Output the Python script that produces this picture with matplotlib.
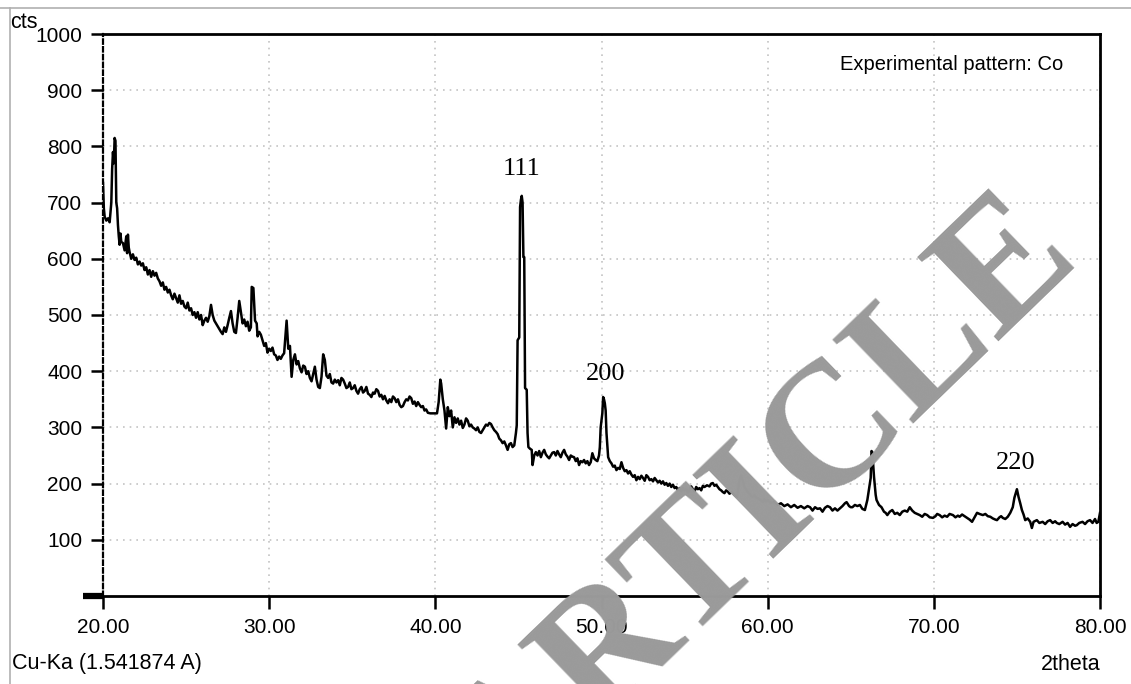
import numpy as np
import matplotlib.pyplot as plt
from matplotlib.lines import Line2D

# XRD pattern (2theta in degrees, counts)
two_theta = [
    20.00, 20.05, 20.10, 20.20, 20.30, 20.40, 20.50, 20.55, 20.60, 20.65, 20.70, 20.75, 20.80, 20.85, 20.90, 20.95,
    21.00, 21.05, 21.10, 21.20, 21.30, 21.40, 21.45, 21.50, 21.55, 21.60, 21.70, 21.80, 21.90, 22.00, 22.10, 22.20,
    22.30, 22.40, 22.50, 22.60, 22.70, 22.80, 22.90, 23.00, 23.10, 23.20, 23.30, 23.40, 23.50, 23.60, 23.70, 23.80,
    23.90, 24.00, 24.10, 24.20, 24.30, 24.40, 24.50, 24.60, 24.70, 24.80, 24.90, 25.00, 25.10, 25.20, 25.30, 25.40,
    25.50, 25.60, 25.70, 25.80, 25.90, 26.00, 26.10, 26.20, 26.30, 26.40, 26.50, 26.60, 26.70, 26.80, 26.90, 27.00,
    27.10, 27.20, 27.30, 27.40, 27.50, 27.60, 27.70, 27.80, 27.90, 28.00, 28.10, 28.20, 28.30, 28.40, 28.50, 28.60,
    28.70, 28.80, 28.90, 28.95, 29.05, 29.15, 29.25, 29.30, 29.40, 29.50, 29.60, 29.70, 29.80, 29.90, 30.00, 30.10,
    30.20, 30.30, 30.40, 30.50, 30.60, 30.70, 30.80, 30.90, 31.00, 31.05, 31.15, 31.25, 31.35, 31.45, 31.55, 31.65,
    31.75, 31.85, 31.95, 32.05, 32.15, 32.25, 32.35, 32.45, 32.55, 32.65, 32.75, 32.85, 32.95, 33.05, 33.15, 33.25,
    33.35, 33.45, 33.55, 33.65, 33.75, 33.85, 33.95, 34.05, 34.15, 34.25, 34.35, 34.45, 34.55, 34.65, 34.75, 34.85,
    34.95, 35.05, 35.15, 35.25, 35.35, 35.45, 35.55, 35.65, 35.75, 35.85, 35.95, 36.05, 36.15, 36.25, 36.35, 36.45,
    36.55, 36.65, 36.75, 36.85, 36.95, 37.05, 37.15, 37.25, 37.35, 37.45, 37.55, 37.65, 37.75, 37.85, 37.95, 38.05,
    38.15, 38.25, 38.35, 38.45, 38.55, 38.65, 38.75, 38.85, 38.95, 39.05, 39.15, 39.25, 39.35, 39.45, 39.55, 39.70,
    39.90, 40.10, 40.20, 40.30, 40.35, 40.45, 40.55, 40.65, 40.75, 40.85, 40.95, 41.05, 41.15, 41.25, 41.35, 41.45,
    41.55, 41.65, 41.75, 41.85, 41.95, 42.05, 42.15, 42.25, 42.35, 42.45, 42.55, 42.65, 42.75, 42.85, 42.95, 43.05,
    43.15, 43.25, 43.35, 43.45, 43.55, 43.65, 43.75, 43.85, 43.95, 44.05, 44.15, 44.25, 44.35, 44.45, 44.55, 44.65,
    44.75, 44.85, 44.90, 44.95, 45.05, 45.10, 45.15, 45.20, 45.25, 45.30, 45.35, 45.40, 45.50, 45.55, 45.60, 45.70,
    45.80, 45.85, 45.95, 46.05, 46.15, 46.25, 46.35, 46.45, 46.55, 46.65, 46.75, 46.85, 46.95, 47.05, 47.15, 47.25,
    47.35, 47.45, 47.55, 47.65, 47.75, 47.85, 47.95, 48.05, 48.15, 48.25, 48.35, 48.45, 48.55, 48.65, 48.75, 48.85,
    48.95, 49.05, 49.15, 49.25, 49.35, 49.45, 49.55, 49.65, 49.75, 49.85, 49.90, 49.95, 50.05, 50.10, 50.15, 50.20,
    50.25, 50.30, 50.40, 50.50, 50.60, 50.70, 50.80, 50.90, 51.00, 51.10, 51.20, 51.30, 51.40, 51.50, 51.60, 51.70,
    51.80, 51.90, 52.00, 52.10, 52.20, 52.30, 52.40, 52.50, 52.60, 52.70, 52.80, 52.90, 53.00, 53.10, 53.20, 53.30,
    53.40, 53.50, 53.60, 53.70, 53.80, 53.90, 54.00, 54.10, 54.20, 54.30, 54.40, 54.50, 54.60, 54.70, 54.80, 54.90,
    55.00, 55.10, 55.20, 55.30, 55.40, 55.50, 55.60, 55.70, 55.80, 55.90, 56.00, 56.10, 56.20, 56.35, 56.50, 56.60,
    56.70, 56.80, 56.90, 57.00, 57.10, 57.20, 57.30, 57.40, 57.50, 57.60, 57.70, 57.85, 58.00, 58.15, 58.25, 58.30,
    58.40, 58.50, 58.60, 58.70, 58.80, 58.90, 59.00, 59.10, 59.20, 59.30, 59.40, 59.50, 59.60, 59.70, 59.80, 59.90,
    60.00, 60.20, 60.40, 60.60, 60.80, 61.00, 61.20, 61.40, 61.60, 61.80, 62.00, 62.20, 62.40, 62.55, 62.70, 62.85,
    63.00, 63.15, 63.30, 63.45, 63.60, 63.75, 63.90, 64.05, 64.20, 64.35, 64.50, 64.65, 64.75, 64.90, 65.00, 65.10,
    65.25, 65.40, 65.55, 65.70, 65.85, 66.00, 66.10, 66.20, 66.25, 66.30, 66.40, 66.50, 66.55, 66.70, 66.85, 67.00,
    67.10, 67.20, 67.35, 67.50, 67.65, 67.80, 67.95, 68.10, 68.25, 68.40, 68.55, 68.70, 68.85, 69.00, 69.15, 69.30,
    69.45, 69.60, 69.75, 69.95, 70.10, 70.20, 70.35, 70.50, 70.65, 70.80, 70.95, 71.15, 71.30, 71.45, 71.55, 71.70,
    71.85, 72.00, 72.15, 72.30, 72.45, 72.60, 72.75, 72.95, 73.10, 73.25, 73.40, 73.55, 73.70, 73.80, 73.95, 74.05,
    74.15, 74.30, 74.45, 74.60, 74.75, 74.85, 74.95, 75.00, 75.10, 75.20, 75.30, 75.40, 75.50, 75.65, 75.80, 75.90,
    76.00, 76.20, 76.35, 76.55, 76.70, 76.85, 77.00, 77.15, 77.30, 77.40, 77.55, 77.75, 77.90, 78.05, 78.20, 78.35,
    78.50, 78.60, 78.75, 78.95, 79.10, 79.25, 79.40, 79.55, 79.70, 79.80, 79.90, 80.00,
]
counts = [
    735, 690, 675, 668, 672, 665, 700, 760, 790, 770, 815, 810, 700, 690, 660, 640,
    625, 645, 630, 628, 615, 640, 610, 643, 620, 612, 600, 608, 598, 602, 590, 595,
    588, 592, 580, 585, 572, 580, 568, 578, 570, 575, 565, 560, 552, 558, 545, 550,
    540, 545, 535, 528, 538, 530, 522, 535, 520, 525, 515, 512, 522, 508, 512, 500,
    505, 495, 505, 492, 500, 482, 490, 495, 488, 498, 518, 500, 490, 485, 480, 475,
    470, 466, 478, 470, 482, 495, 507, 485, 470, 468, 495, 525, 505, 485, 492, 480,
    488, 472, 478, 550, 548, 490, 485, 462, 470, 465, 455, 445, 450, 433, 440, 436,
    442, 430, 428, 420, 426, 422, 428, 432, 470, 490, 440, 445, 390, 420, 430, 412,
    418, 405, 398, 410, 408, 395, 400, 388, 382, 395, 408, 385, 372, 370, 390, 430,
    420, 392, 388, 395, 380, 378, 385, 380, 384, 375, 388, 385, 378, 370, 372, 380,
    368, 370, 375, 365, 360, 368, 372, 362, 365, 372, 360, 358, 354, 362, 360, 368,
    365, 355, 358, 350, 356, 348, 343, 350, 345, 355, 352, 345, 350, 340, 336, 338,
    345, 350, 348, 355, 352, 342, 346, 338, 345, 340, 336, 338, 330, 332, 326, 325,
    325, 325, 345, 385, 378, 350, 330, 298, 336, 320, 330, 300, 318, 308, 316, 305,
    312, 299, 305, 316, 312, 302, 305, 300, 298, 295, 300, 292, 290, 295, 300, 305,
    303, 308, 306, 300, 295, 292, 288, 280, 277, 272, 275, 268, 260, 270, 272, 265,
    268, 290, 304, 455, 460, 692, 705, 712, 700, 603, 603, 370, 367, 290, 265, 262,
    260, 233, 250, 256, 250, 258, 247, 255, 260, 252, 248, 245, 250, 255, 256, 250,
    258, 252, 247, 255, 260, 252, 248, 242, 250, 248, 247, 240, 245, 233, 240, 238,
    242, 236, 240, 233, 238, 254, 245, 242, 240, 250, 265, 300, 325, 354, 350, 343,
    330, 290, 247, 240, 236, 230, 232, 224, 228, 226, 238, 228, 222, 224, 218, 222,
    216, 212, 215, 206, 212, 208, 214, 210, 205, 215, 212, 206, 208, 204, 210, 206,
    202, 205, 200, 204, 198, 201, 196, 200, 194, 198, 192, 194, 188, 192, 186, 192,
    188, 190, 184, 188, 195, 190, 186, 194, 190, 192, 188, 196, 194, 197, 195, 200,
    201, 196, 198, 194, 190, 188, 185, 183, 188, 186, 182, 185, 180, 176, 195, 206,
    215, 205, 194, 190, 185, 182, 178, 176, 180, 175, 174, 172, 170, 167, 172, 168,
    171, 165, 168, 162, 165, 160, 163, 158, 162, 157, 160, 156, 160, 158, 152, 158,
    155, 156, 150, 157, 160, 158, 152, 156, 152, 156, 160, 165, 167, 160, 158, 158,
    162, 160, 162, 155, 153, 171, 190, 210, 258, 256, 212, 180, 171, 162, 158, 150,
    148, 144, 150, 153, 146, 148, 144, 150, 152, 150, 158, 152, 148, 146, 144, 141,
    146, 144, 140, 139, 142, 146, 144, 140, 143, 141, 146, 144, 140, 143, 141, 145,
    142, 139, 136, 132, 140, 148, 146, 144, 146, 142, 141, 138, 136, 135, 140, 142,
    139, 137, 141, 148, 158, 175, 185, 190, 176, 165, 153, 145, 135, 138, 132, 121,
    132, 135, 130, 132, 128, 133, 135, 130, 133, 130, 128, 132, 127, 130, 123, 128,
    125, 126, 130, 132, 128, 133, 135, 130, 137, 130, 132, 148,
]

peak_labels = ["111", "200", "220"]
peak_pos = [45.2, 50.25, 74.9]
peak_lab_y = [740, 375, 217]

x_ticks = [20, 30, 40, 50, 60, 70, 80]
y_ticks = [100, 200, 300, 400, 500, 600, 700, 800, 900, 1000]

sans = ['Liberation Sans', 'DejaVu Sans']
serif = ['Liberation Serif', 'DejaVu Serif']

fig = plt.figure(figsize=(11.31, 6.84), dpi=100)
ax = fig.add_axes([103 / 1131, 88 / 684, 997 / 1131, 562 / 684])

# watermark, drawn over the pattern
ax.text(0.662, 0.158, "ARTICLE", transform=ax.transAxes, rotation=44,
        ha='center', va='center', fontsize=128, family=serif, weight='bold',
        color='#9a9a9a', zorder=5, clip_on=False)

ax.plot(two_theta, counts, color='black', lw=1.8, zorder=3)

for lab, px, py in zip(peak_labels, peak_pos, peak_lab_y):
    ax.text(px, py, lab, ha='center', va='bottom', fontsize=19, family=serif)

ax.set_xlim(20, 80)
ax.set_ylim(0, 1000)
ax.set_xticks(x_ticks)
ax.set_xticklabels([f"{v:.2f}" for v in x_ticks])
ax.set_yticks(y_ticks)
ax.set_yticklabels([str(v) for v in y_ticks])
for lbl in ax.get_xticklabels() + ax.get_yticklabels():
    lbl.set_family(sans)
    lbl.set_fontsize(15)
ax.tick_params(axis='both', direction='out', length=9, width=1.8, color='black')
ax.tick_params(axis='x', pad=7)
ax.tick_params(axis='y', pad=6)

ax.grid(True, color='#c4c4c4', linestyle=(0, (1, 3)), lw=1.2)
ax.set_axisbelow(True)

ax.spines['left'].set_linestyle((0, (2, 1.5)))
ax.spines['left'].set_linewidth(1.6)
for s in ['top', 'bottom', 'right']:
    ax.spines[s].set_linewidth(2.0)

# stub at the origin
ax.plot([-0.02, 0], [0, 0], transform=ax.transAxes, color='black', lw=4.5,
        solid_capstyle='butt', clip_on=False)

ax.text(0.963, 0.962, "Experimental pattern: Co", transform=ax.transAxes,
        ha='right', va='top', fontsize=14.5, family=sans)
fig.text(10 / 1131, 1 - 22 / 684, "cts", ha='left', va='center', fontsize=15.5, family=sans)
fig.text(12 / 1131, 1 - 664 / 684, "Cu-Ka (1.541874 A)", ha='left', va='center', fontsize=15.5, family=sans)
fig.text(1100 / 1131, 1 - 664 / 684, "2theta", ha='right', va='center', fontsize=15.5, family=sans)

# outer frame lines of the screenshot
fig.add_artist(Line2D([0, 1], [1 - 8 / 684] * 2, color='#b0b0b0', lw=1.2))
fig.add_artist(Line2D([10 / 1131] * 2, [0, 1 - 8 / 684], color='#b0b0b0', lw=1.2))

fig.savefig("out.png", dpi=100)
